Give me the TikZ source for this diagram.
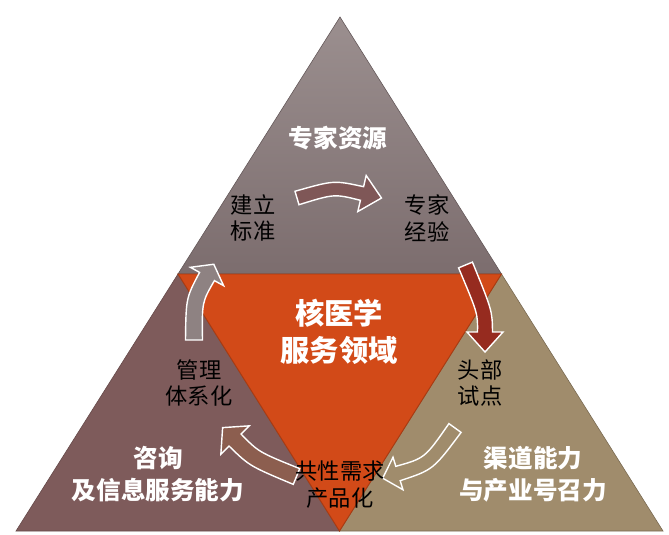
\documentclass[tikz,border=0pt]{standalone}
\usepackage{fontspec}
\newfontfamily\cjk{Noto Sans CJK SC}
\usetikzlibrary{calc}

\definecolor{topgrey}{HTML}{9B8F8F}
\definecolor{topgreydark}{HTML}{7C6D6E}
\definecolor{leftbrown}{HTML}{7E5B5B}
\definecolor{righttan}{HTML}{A08C6C}
\definecolor{coreorange}{HTML}{D24A18}
\definecolor{coreedge}{HTML}{A93B12}
\definecolor{arrowone}{HTML}{7F5757}
\definecolor{arrowtwo}{HTML}{962B1F}
\definecolor{arrowthree}{HTML}{8E8282}
\definecolor{arrowfour}{HTML}{8C5E4F}

\tikzset{
    title/.style={font=\cjk\bfseries\fontsize{21}{27}\selectfont, text=white, align=center, inner sep=0pt},
    core/.style={font=\cjk\bfseries\fontsize{25}{31.5}\selectfont, text=white, align=center, inner sep=0pt},
    stage/.style={font=\cjk\fontsize{19}{23}\selectfont, text=black, align=center, inner sep=0pt},
    fat/.style={draw=white, line width=1.2pt, line join=miter},
}

% fat curved arrow: style, tail, control, head base, half width, head half width, head length (in px)
\newcommand{\fatarrow}[7]{
    \coordinate (s) at #2;
    \coordinate (c) at #3;
    \coordinate (b) at #4;
    \coordinate (sl) at ($(s)!#5*0.3mm!90:(c)$);
    \coordinate (sr) at ($(s)!#5*0.3mm!-90:(c)$);
    \coordinate (bl) at ($(b)!#5*0.3mm!-90:(c)$);
    \coordinate (br) at ($(b)!#5*0.3mm!90:(c)$);
    \coordinate (hl) at ($(b)!#6*0.3mm!-90:(c)$);
    \coordinate (hr) at ($(b)!#6*0.3mm!90:(c)$);
    \coordinate (t) at ($(b)!-#7*0.3mm!(c)$);
    \coordinate (cl) at ($(c)+0.5*(sl)-0.5*(s)+0.5*(bl)-0.5*(b)$);
    \coordinate (cr) at ($(c)+0.5*(sr)-0.5*(s)+0.5*(br)-0.5*(b)$);
    \draw[fat,#1] (sl) .. controls (cl) .. (bl) -- (hl) -- (t) -- (hr) -- (br)
        .. controls (cr) .. (sr) -- cycle;
}

\begin{document}
\begin{tikzpicture}[x=0.03cm,y=-0.03cm]
    \useasboundingbox (0,0) rectangle (669,535);

    % corners
    \coordinate (apex) at (340,17);
    \coordinate (cornl) at (16,531);
    \coordinate (cornr) at (663,531);
    \coordinate (midl) at (178,274);
    \coordinate (midr) at (501.5,274);
    \coordinate (midb) at (339.5,531);

    % triangles
    \shade[top color=topgrey, bottom color=topgreydark] (apex) -- (midl) -- (midr) -- cycle;
    \draw[topgreydark!80!black, line width=0.5pt] (apex) -- (midl) -- (midr) -- cycle;
    \filldraw[fill=leftbrown, draw=leftbrown!80!black, line width=0.5pt] (midl) -- (cornl) -- (midb) -- cycle;
    \filldraw[fill=righttan, draw=righttan!75!black, line width=0.5pt] (midr) -- (midb) -- (cornr) -- cycle;
    \filldraw[fill=coreorange, draw=coreedge, line width=0.8pt] (midl) -- (midr) -- (midb) -- cycle;

    % arrows
    \fatarrow{fill=arrowone}{(297,198)}{(334,187)}{(362,193.5)}{7}{18.5}{20}
    \fatarrow{fill=arrowtwo}{(465.5,265)}{(485,312)}{(485,332)}{7.5}{18}{20}
    \fatarrow{fill=none}{(455,428)}{(429,464)}{(398,473.5)}{7.5}{17}{16}
    \fatarrow{fill=arrowfour}{(296.5,476.5)}{(254,459)}{(235,440)}{8.5}{20}{17.5}
    \fatarrow{fill=arrowthree}{(194,340)}{(194,300)}{(207,276.5)}{8.5}{19}{14}

    % texts
    \node[title] (expert) at (338,138) {专家资源};
    \node[core] (field) at (339,331.5) {核医学\\服务领域};
    \node[title] (consult) at (158,474) {咨询\\及信息服务能力};
    \node[title] (channel) at (533,474) {渠道能力\\与产业号召力};

    \node[stage] (standard) at (253,218) {建立\\标准};
    \node[stage] (experience) at (427,218) {专家\\经验};
    \node[stage] (pilot) at (480,383) {头部\\试点};
    \node[stage] (product) at (340,485) {共性需求\\产品化};
    \node[stage] (system) at (199,383) {管理\\体系化};
\end{tikzpicture}
\end{document}
